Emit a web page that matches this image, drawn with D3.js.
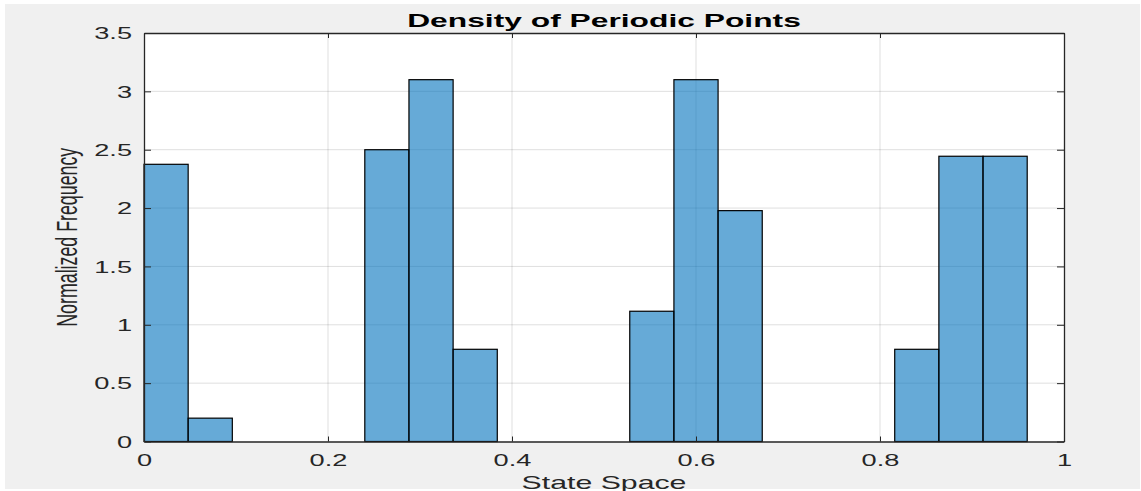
<!DOCTYPE html>
<html>
<head>
<style>
body { margin: 0; background: #fff; }
svg text { font-family: "Liberation Sans", Arial, sans-serif; fill: #262626; }
.title { font-weight: bold; font-size: 18.7px; fill: #000; }
.tick-label { font-size: 16px; }
.axis-label { font-size: 17.8px; }
</style>
</head>
<body>
<div id="container"></div>
<script src="https://d3js.org/d3.v7.min.js"></script>
<script>
const width = 1141;
const height = 491;

// histogram bins (lower edge, upper edge) and normalized frequency
const binLo = [0, 0.048, 0.24, 0.288, 0.336, 0.528, 0.576, 0.624, 0.816, 0.864, 0.912];
const binHi = [0.048, 0.096, 0.288, 0.336, 0.384, 0.576, 0.624, 0.672, 0.864, 0.912, 0.96];
const density = [2.375, 0.2, 2.5, 3.1, 0.79, 1.116, 3.1, 1.978, 0.79, 2.444, 2.444];

const xTicks = [0, 0.2, 0.4, 0.6, 0.8, 1];
const xTickLabels = ["0", "0.2", "0.4", "0.6", "0.8", "1"];
const yTicks = [0, 0.5, 1, 1.5, 2, 2.5, 3, 3.5];
const yTickLabels = ["0", "0.5", "1", "1.5", "2", "2.5", "3", "3.5"];

const stretch = 1.7; // the picture is wide, text looks stretched sideways

const margin = {left: 144, right: 77, top: 33, bottom: 49.5};

const svg = d3.select('#container').append('svg')
    .attr('width', width).attr('height', height);

svg.append('rect')
    .attr('x', 5).attr('y', 4)
    .attr('width', 1135).attr('height', 485)
    .attr('fill', '#f0f0f0');

const x = d3.scaleLinear().domain([0, 1]).range([margin.left, width - margin.right]);
const y = d3.scaleLinear().domain([0, 3.5]).range([height - margin.bottom, margin.top]);

svg.append('rect')
    .attr('x', x(0)).attr('y', y(3.5))
    .attr('width', x(1) - x(0)).attr('height', y(0) - y(3.5))
    .attr('fill', '#fff');

// grid
const grid = svg.append('g').attr('stroke', '#262626').attr('stroke-opacity', 0.15);
grid.selectAll('.vg').data(xTicks.slice(1, -1)).enter().append('line')
    .attr('x1', d => x(d)).attr('x2', d => x(d))
    .attr('y1', y(0)).attr('y2', y(3.5));
grid.selectAll('.hg').data(yTicks.slice(1, -1)).enter().append('line')
    .attr('x1', x(0)).attr('x2', x(1))
    .attr('y1', d => y(d)).attr('y2', d => y(d));

// bars
svg.append('g').selectAll('rect')
    .data(density)
    .enter().append('rect')
    .attr('x', (d, i) => x(binLo[i]))
    .attr('width', (d, i) => x(binHi[i]) - x(binLo[i]))
    .attr('y', d => y(d))
    .attr('height', d => y(0) - y(d))
    .attr('fill', 'rgb(0,114,189)')
    .attr('fill-opacity', 0.6)
    .attr('stroke', '#000')
    .attr('stroke-width', 1.2);

// axes (ticks point inward, mirrored on top / right)
const axB = svg.append('g').attr('transform', `translate(0,${y(0)})`)
    .call(d3.axisBottom(x).tickValues(xTicks).tickSizeInner(-5).tickSizeOuter(0).tickFormat((d, i) => xTickLabels[i]));
const axT = svg.append('g').attr('transform', `translate(0,${y(3.5)})`)
    .call(d3.axisTop(x).tickValues(xTicks).tickSizeInner(-5).tickSizeOuter(0).tickFormat(''));
const axL = svg.append('g').attr('transform', `translate(${x(0)},0)`)
    .call(d3.axisLeft(y).tickValues(yTicks).tickSizeInner(-7).tickSizeOuter(0).tickFormat((d, i) => yTickLabels[i]));
const axR = svg.append('g').attr('transform', `translate(${x(1)},0)`)
    .call(d3.axisRight(y).tickValues(yTicks).tickSizeInner(-7).tickSizeOuter(0).tickFormat(''));

[axB, axT, axL, axR].forEach(a => {
    a.select('.domain').attr('stroke', '#262626').attr('stroke-width', 1.3);
    a.selectAll('.tick line').attr('stroke', '#262626');
});

axB.selectAll('.tick text')
    .attr('class', 'tick-label')
    .attr('font-family', null).attr('font-size', null)
    .attr('dy', null).attr('y', 24.5)
    .attr('transform', `scale(${stretch},1)`);
axL.selectAll('.tick text')
    .attr('class', 'tick-label')
    .attr('font-family', null).attr('font-size', null)
    .attr('x', -12 / stretch).attr('dy', '0.36em')
    .attr('transform', `scale(${stretch},1)`);

// title and labels
svg.append('text')
    .attr('class', 'title')
    .attr('text-anchor', 'middle')
    .attr('transform', `translate(${(x(0) + x(1)) / 2},26.6) scale(${stretch},1)`)
    .text('Density of Periodic Points');

svg.append('text')
    .attr('class', 'axis-label')
    .attr('text-anchor', 'middle')
    .attr('transform', `translate(${(x(0) + x(1)) / 2},488.8) scale(${stretch},1)`)
    .text('State Space');

svg.append('text')
    .attr('class', 'axis-label')
    .attr('text-anchor', 'middle')
    .attr('transform', `translate(76.5,${(y(0) + y(3.5)) / 2}) scale(${stretch},1) rotate(-90)`)
    .text('Normalized Frequency');
</script>
</body>
</html>
